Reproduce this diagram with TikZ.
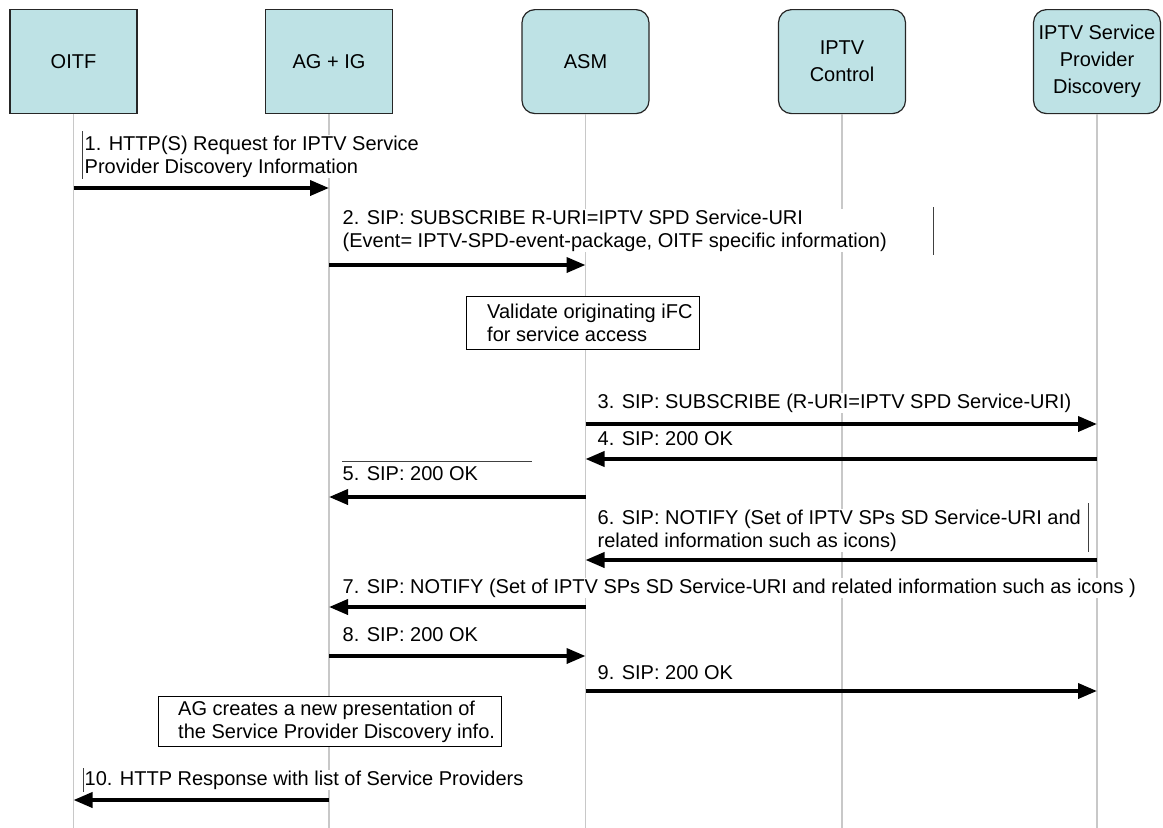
\documentclass[tikz,border=0pt]{standalone}
\usepackage{fontspec}
\setmainfont{Liberation Sans}
\usetikzlibrary{arrows.meta}
\definecolor{boxfill}{RGB}{190,226,229}
\definecolor{lifegray}{RGB}{200,200,200}
\begin{document}
\begin{tikzpicture}[x=1pt,y=-1pt,
  actor/.style={draw=black!85,line width=1.2pt,fill=boxfill,minimum width=127pt,
    minimum height=104pt,anchor=north,align=center,inner sep=0pt,
    font=\fontsize{20}{27}\selectfont},
  ractor/.style={actor,rounded corners=13pt},
  life/.style={draw=lifegray,line width=1.5pt},
  msg/.style={line width=3.7pt,-{Triangle[length=19pt,width=15pt]}},
  lbl/.style={anchor=north west,align=left,inner sep=0.5pt,fill=white,
    font=\fontsize{20}{23}\selectfont},
  notebox/.style={draw=black,line width=1.2pt,fill=white,anchor=north west},
  notetxt/.style={anchor=west,align=left,inner sep=0pt,font=\fontsize{20}{23}\selectfont},
  stray/.style={draw=black!75,line width=0.8pt}]
\useasboundingbox (0,0) rectangle (1163,828);
% actors
\node[actor]  (oitf) at (73.5,9) {OITF};
\node[actor]  (ag)   at (329,9) {AG + IG};
\node[ractor] (asm)  at (585.5,9) {ASM};
\node[ractor] (ctl)  at (842,9) {IPTV\\Control};
\node[ractor] (spd)  at (1097,9) {IPTV Service\\Provider\\Discovery};
% lifelines
\coordinate (oitfE) at (oitf.south |- 0,828);
\coordinate (agE)   at (ag.south |- 0,828);
\coordinate (asmE)  at (asm.south |- 0,828);
\coordinate (ctlE)  at (ctl.south |- 0,828);
\coordinate (spdE)  at (spd.south |- 0,828);
\draw[life] (oitf.south) -- (oitfE);
\draw[life] (ag.south) -- (agE);
\draw[life] (asm.south) -- (asmE);
\draw[life] (ctl.south) -- (ctlE);
\draw[life] (spd.south) -- (spdE);
% message 1
\node[lbl] (l1) at (84,135) {1. HTTP(S) Request for IPTV Service\\Provider Discovery Information};
\draw[msg] (oitf |- 0,188) -- (ag |- 0,188);
\draw[stray] (82,131) -- (82,179);
% message 2
\node[lbl] (l2) at (342,209) {2. SIP: SUBSCRIBE R-URI=IPTV SPD Service-URI\\(Event= IPTV-SPD-event-package, OITF specific information)};
\draw[msg] (ag |- 0,265) -- (asm |- 0,265);
\draw[stray] (933,207) -- (933,255);
% validate note
\node[notebox,minimum width=233pt,minimum height=53pt] (vbox) at (466,296) {};
\node[notetxt] (vtxt) at ([xshift=21pt]vbox.west) {Validate originating iFC\\for service access};
% message 3
\node[lbl] (l3) at (597,393) {3. SIP: SUBSCRIBE (R-URI=IPTV SPD Service-URI)};
\draw[msg] (asm |- 0,424) -- (spd |- 0,424);
% message 4
\node[lbl] (l4) at (597,431) {4. SIP: 200 OK};
\draw[msg] (spd |- 0,459) -- (asm |- 0,459);
% message 5
\draw[stray] (342,461) -- (532,461);
\node[lbl] (l5) at (342,466) {5. SIP: 200 OK};
\draw[msg] (asm |- 0,497) -- (ag |- 0,497);
% message 6
\node[lbl] (l6) at (597,509) {6. SIP: NOTIFY (Set of IPTV SPs SD Service-URI and\\related information such as icons)};
\draw[msg] (spd |- 0,560) -- (asm |- 0,560);
\draw[stray] (1088,503) -- (1088,552);
% message 7
\node[lbl] (l7) at (342,578) {7. SIP: NOTIFY (Set of IPTV SPs SD Service-URI and related information such as icons )};
\draw[msg] (asm |- 0,607) -- (ag |- 0,607);
% message 8
\node[lbl] (l8) at (342,627) {8. SIP: 200 OK};
\draw[msg] (ag |- 0,656) -- (asm |- 0,656);
% message 9
\node[lbl] (l9) at (597,665) {9. SIP: 200 OK};
\draw[msg] (asm |- 0,691) -- (spd |- 0,691);
% AG note
\node[notebox,minimum width=343pt,minimum height=50pt] (abox) at (158,696) {};
\node[notetxt] (atxt) at ([xshift=20pt]abox.west) {AG creates a new presentation of\\the Service Provider Discovery info.};
% message 10
\node[lbl] (l10) at (84,770) {10. HTTP Response with list of Service Providers};
\draw[msg] (ag |- 0,800) -- (oitf |- 0,800);
\draw[stray] (83,768) -- (83,792);
\end{tikzpicture}
\end{document}
